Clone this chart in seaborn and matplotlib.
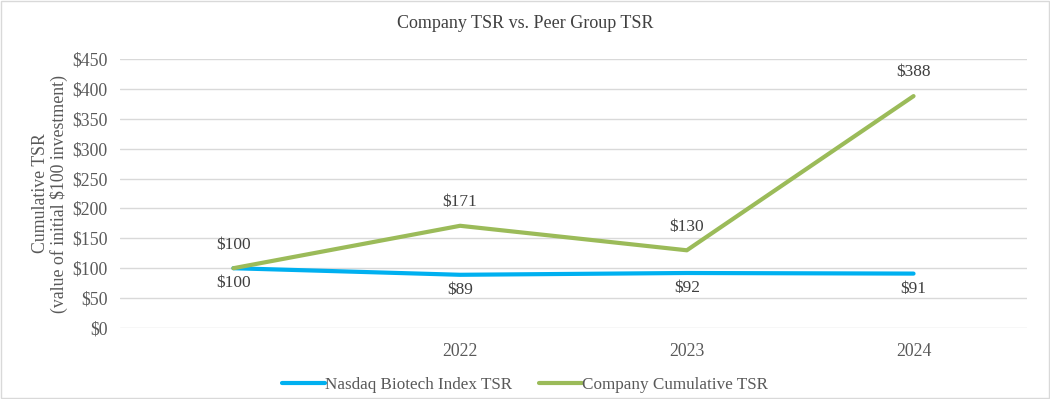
import pandas as pd
import seaborn as sns
import matplotlib.pyplot as plt
from matplotlib.patches import Rectangle

sns.set_theme(style="white")
plt.rcParams["font.family"] = ["Liberation Serif", "DejaVu Serif"]

# data
years = ["", "2022", "2023", "2024"]
nasdaq_tsr = [100, 89, 92, 91]
company_tsr = [100, 171, 130, 388]
series_names = ["Nasdaq Biotech Index TSR", "Company Cumulative TSR"]
y_ticks = [0, 50, 100, 150, 200, 250, 300, 350, 400, 450]

df = pd.DataFrame({
    "year": years * 2,
    "pos": list(range(len(years))) * 2,
    "tsr": nasdaq_tsr + company_tsr,
    "series": [series_names[0]] * len(years) + [series_names[1]] * len(years),
})

text_color = "#595959"
palette = {series_names[0]: "#00B0F0", series_names[1]: "#9BBB59"}

fig = plt.figure(figsize=(10.5, 3.99), dpi=100)
ax = fig.add_axes([0.1143, 0.178, 0.8637, 0.674])

sns.lineplot(data=df, x="pos", y="tsr", hue="series", palette=palette,
             linewidth=3.0, ax=ax, legend=True)

ax.set_xlim(-0.5, len(years) - 0.5)
ax.set_ylim(0, 450)
ax.set_yticks(y_ticks)
ax.set_yticklabels([f"${v}" for v in y_ticks])
ax.set_xticks(range(len(years)))
ax.set_xticklabels(years)
ax.tick_params(axis="both", colors=text_color, labelsize=12.8, length=0)
ax.tick_params(axis="x", pad=11)
ax.tick_params(axis="y", pad=9)
ax.yaxis.grid(True, color="#D9D9D9", linewidth=1)
ax.xaxis.grid(False)
for s in ax.spines.values():
    s.set_visible(False)
ax.set_xlabel("")
ax.set_ylabel("Cumulative TSR\n(value of initial $100 investment)",
              color=text_color, fontsize=12.8, labelpad=3, linespacing=1.05)

# data labels
for i, v in enumerate(company_tsr):
    ax.annotate(f"${v}", (i, v), xytext=(0, 17), textcoords="offset points",
                ha="center", va="center", fontsize=12.5, color="#404040")
for i, v in enumerate(nasdaq_tsr):
    ax.annotate(f"${v}", (i, v), xytext=(0, -11), textcoords="offset points",
                ha="center", va="center", fontsize=12.5, color="#404040")

fig.text(0.5, 0.94, "Company TSR vs. Peer Group TSR", ha="center", va="center",
         fontsize=13, color="#404040")

handles, labels = ax.get_legend_handles_labels()
ax.legend(handles, labels, loc="center", bbox_to_anchor=(0.5, 0.035),
          bbox_transform=fig.transFigure, ncol=2, frameon=False,
          fontsize=12.3, labelcolor=text_color, handlelength=2.5,
          handletextpad=0.0, columnspacing=1.6)

fig.patches.append(Rectangle((0.001, 0.002), 0.998, 0.996, transform=fig.transFigure,
                             fill=False, edgecolor="#D9D9D9", linewidth=1))

fig.savefig("out.png", dpi=100)
